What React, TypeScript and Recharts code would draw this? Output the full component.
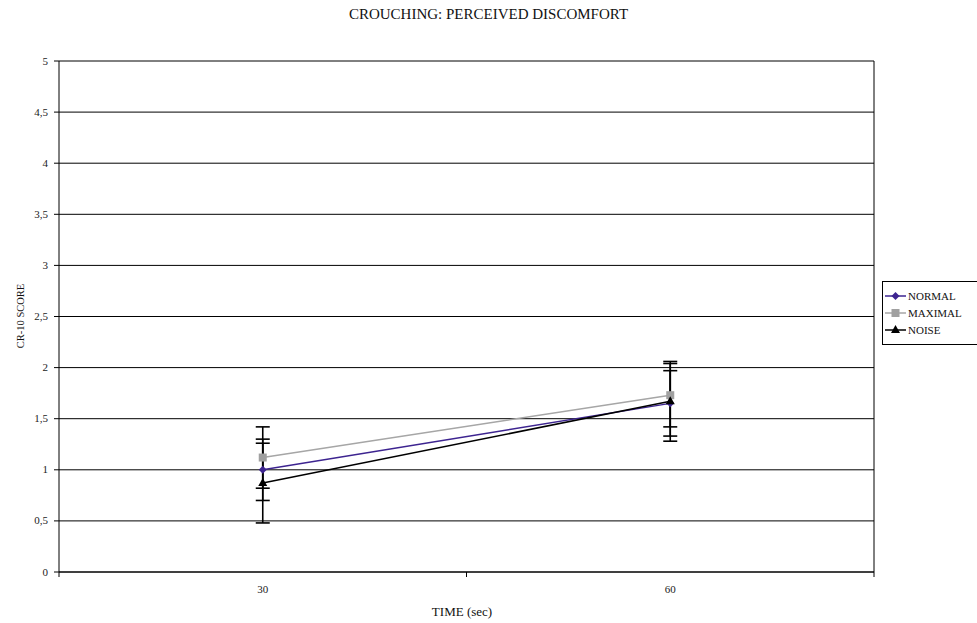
import React from 'react';
import {
    LineChart,
    Line,
    XAxis,
    YAxis,
    CartesianGrid,
    ErrorBar,
    ReferenceLine,
} from 'recharts';

const TIME = ['30', '60'];
const NORMAL = [1.0, 1.65];
const NORMAL_ERR = [0.3, 0.32];
const MAXIMAL = [1.12, 1.73];
const MAXIMAL_ERR = [0.3, 0.31];
const NOISE = [0.87, 1.67];
const NOISE_ERR = [0.39, 0.39];
const Y_TICKS = [0, 0.5, 1, 1.5, 2, 2.5, 3, 3.5, 4, 4.5, 5];

const FONT = '"Liberation Serif", "Times New Roman", serif';

type Shape = 'diamond' | 'square' | 'triangle';

const SERIES: { key: string; name: string; color: string; fill: string; shape: Shape }[] = [
    { key: 'normal', name: 'NORMAL', color: '#3d2490', fill: '#3d2490', shape: 'diamond' },
    { key: 'maximal', name: 'MAXIMAL', color: '#a6a6a6', fill: '#a0a0a0', shape: 'square' },
    { key: 'noise', name: 'NOISE', color: '#000000', fill: '#000000', shape: 'triangle' },
];

// x positions sit in the middle of each category band (Excel style)
const data = TIME.map((t, i) => ({
    x: i + 0.5,
    label: t,
    normal: NORMAL[i],
    normalErr: NORMAL_ERR[i],
    maximal: MAXIMAL[i],
    maximalErr: MAXIMAL_ERR[i],
    noise: NOISE[i],
    noiseErr: NOISE_ERR[i],
}));

function marker(shape: Shape, cx: number, cy: number, fill: string, key?: string | number) {
    if (shape === 'diamond') {
        return (
            <polygon
                key={key}
                points={`${cx},${cy - 4} ${cx + 4},${cy} ${cx},${cy + 4} ${cx - 4},${cy}`}
                fill={fill}
            />
        );
    }
    if (shape === 'square') {
        return <rect key={key} x={cx - 4} y={cy - 4} width={8} height={8} fill={fill} />;
    }
    return (
        <polygon
            key={key}
            points={`${cx},${cy - 5} ${cx + 4.5},${cy + 3} ${cx - 4.5},${cy + 3}`}
            fill={fill}
        />
    );
}

function XTick(props: any) {
    const { x, y, payload } = props;
    const v: number = payload.value;
    if (Number.isInteger(v)) {
        return <line x1={x} x2={x} y1={y - 17} y2={y - 12} stroke="#000" strokeWidth={1} />;
    }
    const label = TIME[Math.floor(v)];
    return (
        <text
            x={x}
            y={y + 4}
            textAnchor="middle"
            fontSize={11}
            style={{ fontFamily: FONT }}
            fill="#222"
        >
            {label}
        </text>
    );
}

function YTick(props: any) {
    const { x, y, payload } = props;
    return (
        <text
            x={x}
            y={y + 3.5}
            textAnchor="end"
            fontSize={11}
            style={{ fontFamily: FONT }}
            fill="#222"
        >
            {String(payload.value).replace('.', ',')}
        </text>
    );
}

export default function App() {
    return (
        <div
            style={{
                position: 'absolute',
                left: 0,
                top: 0,
                width: 977,
                height: 623,
                overflow: 'hidden',
                background: '#fff',
                fontFamily: FONT,
            }}
        >
            <div
                style={{
                    position: 'absolute',
                    left: 0,
                    width: 977,
                    top: 6,
                    textAlign: 'center',
                    fontSize: 15,
                    color: '#111',
                }}
            >
                CROUCHING: PERCEIVED DISCOMFORT
            </div>
            <LineChart
                width={977}
                height={623}
                data={data}
                margin={{ top: 61, right: 103, bottom: 21, left: 9 }}
                style={{ fontFamily: FONT }}
            >
                <CartesianGrid vertical={false} stroke="#000" strokeWidth={1} />
                <XAxis
                    dataKey="x"
                    type="number"
                    domain={[0, 2]}
                    ticks={[0, 0.5, 1, 1.5, 2]}
                    tick={<XTick />}
                    tickLine={false}
                    tickSize={5}
                    tickMargin={12}
                    height={30}
                    axisLine={{ stroke: '#000' }}
                    interval={0}
                />
                <YAxis
                    domain={[0, 5]}
                    ticks={Y_TICKS}
                    interval={0}
                    width={50}
                    tickSize={5}
                    tickMargin={6}
                    tick={<YTick />}
                    tickLine={{ stroke: '#000' }}
                    axisLine={{ stroke: '#000' }}
                />
                <ReferenceLine x={2} stroke="#000" strokeWidth={1} />
                {SERIES.map((s) => (
                    <Line
                        key={s.key}
                        dataKey={s.key}
                        name={s.name}
                        type="linear"
                        stroke={s.color}
                        strokeWidth={1.5}
                        isAnimationActive={false}
                        dot={(p: any) => marker(s.shape, p.cx, p.cy, s.fill, p.index)}
                        activeDot={false}
                    >
                        <ErrorBar
                            dataKey={`${s.key}Err`}
                            width={7}
                            stroke="#000"
                            strokeWidth={1.6}
                            direction="y"
                        />
                    </Line>
                ))}
            </LineChart>
            <div
                style={{
                    position: 'absolute',
                    left: 20,
                    top: 316,
                    transform: 'translate(-50%, -50%) rotate(-90deg)',
                    fontSize: 10.5,
                    whiteSpace: 'nowrap',
                    color: '#111',
                }}
            >
                CR-10 SCORE
            </div>
            <div
                style={{
                    position: 'absolute',
                    left: 0,
                    width: 924,
                    top: 604,
                    textAlign: 'center',
                    fontSize: 13,
                    color: '#111',
                }}
            >
                TIME (sec)
            </div>
            <div
                style={{
                    position: 'absolute',
                    left: 882,
                    top: 281,
                    width: 120,
                    height: 64,
                    border: '1px solid #000',
                    boxSizing: 'border-box',
                }}
            >
                <svg width={120} height={64} style={{ position: 'absolute', left: 0, top: 0 }}>
                    {SERIES.map((s, i) => {
                        const cy = 14 + i * 17;
                        return (
                            <g key={s.key}>
                                <line x1={2} x2={23} y1={cy} y2={cy} stroke={s.color} strokeWidth={1.5} />
                                {marker(s.shape, 12.5, cy, s.fill)}
                                <text
                                    x={25}
                                    y={cy + 4}
                                    fontSize={11}
                                    style={{ fontFamily: FONT }}
                                    fill="#111"
                                >
                                    {s.name}
                                </text>
                            </g>
                        );
                    })}
                </svg>
            </div>
        </div>
    );
}
